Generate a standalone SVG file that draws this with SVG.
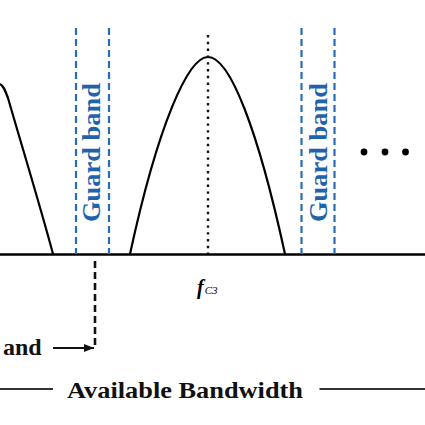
<svg xmlns="http://www.w3.org/2000/svg" width="425" height="425" viewBox="0 0 425 425">
<style>
.curve{fill:none;stroke:#000;stroke-width:2.2}
.gb{stroke:#2a6cb5;stroke-width:2.2;stroke-dasharray:7 4;fill:none}
.gbt{font-family:'Liberation Serif','Times New Roman',serif;font-weight:bold;font-size:25px;fill:#1f63ad}
.lbl{font-family:'Liberation Serif','Times New Roman',serif;font-weight:bold;font-size:24px;fill:#111}
</style>
<defs>
<marker id="ah" viewBox="0 0 10 8" refX="10" refY="4" markerWidth="10" markerHeight="8" markerUnits="userSpaceOnUse" orient="auto">
<path d="M0,0 L10,4 L0,8 Z" fill="#111"/>
</marker>
</defs>
<rect width="425" height="425" fill="#fff"/>
<g id="axis">
<line x1="0" y1="254.5" x2="425" y2="254.5" stroke="#000" stroke-width="2.6"/>
</g>
<g id="signal-left">
<path class="curve" d="M0,84 C3,85 5,90 8,98 C20,140 40,205 53,254"/>
</g>
<g id="signal-center">
<path class="curve" d="M130,254 C158,125 188,57 208,57 C230,57 258,130 285,254"/>
<line x1="208" y1="35" x2="208" y2="254" stroke="#111" stroke-width="2.4" stroke-dasharray="2.4 4.4"/>
</g>
<g id="guard-band-1">
<line class="gb" x1="76" y1="28" x2="76" y2="254"/>
<line class="gb" x1="109" y1="28" x2="109" y2="254"/>
<text class="gbt" transform="translate(100,152.5) rotate(-90)" text-anchor="middle" textLength="139" lengthAdjust="spacingAndGlyphs">Guard band</text>
</g>
<g id="guard-band-2">
<line class="gb" x1="301.5" y1="28" x2="301.5" y2="254"/>
<line class="gb" x1="334.5" y1="28" x2="334.5" y2="254"/>
<text class="gbt" transform="translate(327,152.5) rotate(-90)" text-anchor="middle" textLength="139" lengthAdjust="spacingAndGlyphs">Guard band</text>
</g>
<g id="ellipsis">
<circle cx="364" cy="152" r="3.4" fill="#000"/>
<circle cx="385" cy="152" r="3.4" fill="#000"/>
<circle cx="405.5" cy="152" r="3.4" fill="#000"/>
</g>
<g id="fc3-label">
<text x="197" y="294" font-family="'Liberation Serif','Times New Roman',serif" font-style="italic" font-weight="bold" font-size="20" fill="#000">f<tspan font-weight="normal" font-size="11" dx="1">C3</tspan></text>
</g>
<g id="connectors">
<line x1="95" y1="261" x2="95" y2="348" stroke="#111" stroke-width="2.6" stroke-dasharray="7 4"/>
<line x1="53" y1="348" x2="94" y2="348" stroke="#111" stroke-width="1.8" marker-end="url(#ah)"/>
</g>
<g id="and-label">
<text class="lbl" x="3" y="355">and</text>
</g>
<g id="bandwidth">
<line x1="0" y1="389" x2="53" y2="389" stroke="#333" stroke-width="1.8"/>
<line x1="319.5" y1="389" x2="425" y2="389" stroke="#333" stroke-width="1.8"/>
<text class="lbl" x="185" y="398" text-anchor="middle" textLength="236" lengthAdjust="spacingAndGlyphs">Available Bandwidth</text>
</g>
</svg>
